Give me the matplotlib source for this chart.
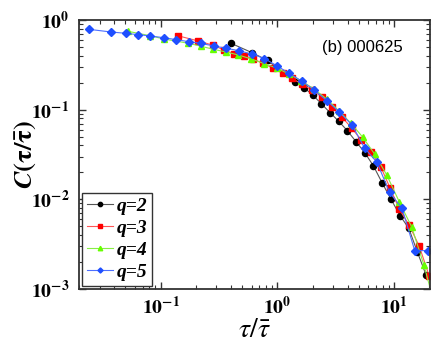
import math
import matplotlib
matplotlib.use("Agg")
import matplotlib.pyplot as plt
from matplotlib.ticker import LogLocator, FuncFormatter, NullFormatter

plt.rcParams['mathtext.fontset'] = 'stix'
plt.rcParams['font.family'] = ['STIXGeneral', 'DejaVu Serif']

# ---- data ----
x_q2 = [0.400, 0.601, 0.824, 1.421, 1.686, 2.002, 2.371, 2.816, 3.342, 3.960,
        4.700, 5.580, 6.612, 7.895, 9.37, 11.19, 13.29, 15.74, 18.68]
y_q2 = [0.550, 0.434, 0.354, 0.205, 0.176, 0.1458, 0.1167, 0.0926, 0.0743, 0.0583,
        0.0440, 0.0332, 0.0237, 0.01512, 0.01003, 0.00658, 0.00476, 0.00259, 0.001437]

x_q3 = [0.1398, 0.2107, 0.282, 0.348, 0.424, 0.517, 0.621, 0.747, 0.921, 1.108,
        1.323, 1.612, 1.963, 2.390, 2.911, 3.546, 4.318, 5.188, 6.281, 7.650,
        9.19, 11.04, 13.44, 16.37, 19.94]
y_q3 = [0.668, 0.583, 0.522, 0.463, 0.421, 0.400, 0.367, 0.329, 0.2894, 0.2545,
        0.2239, 0.1934, 0.1658, 0.1396, 0.1080, 0.0829, 0.0625, 0.0460, 0.0340, 0.0231,
        0.0134, 0.00776, 0.00512, 0.00299, 0.00138]

x_q4 = [0.0525, 0.0810, 0.1067, 0.1730, 0.2227, 0.2832, 0.3623, 0.4637, 0.599, 0.766,
        0.981, 1.254, 1.605, 2.054, 2.628, 3.362, 4.259, 5.344, 6.770, 8.61,
        11.04, 14.09, 17.96, 23.0]
y_q4 = [0.748, 0.668, 0.614, 0.550, 0.509, 0.471, 0.440, 0.407, 0.367, 0.327,
        0.2917, 0.250, 0.209, 0.170, 0.1316, 0.0967, 0.0705, 0.0496, 0.0321, 0.0187,
        0.00935, 0.00492, 0.00183, 0.00055]

x_q5 = [0.02418, 0.0375, 0.0502, 0.0643, 0.0818, 0.1061, 0.1365, 0.1747, 0.2235, 0.2860,
        0.3645, 0.4655, 0.601, 0.771, 0.990, 1.262, 1.612, 2.054, 2.638, 3.382,
        4.344, 5.558, 7.112, 9.10, 11.64, 14.95, 19.25]
y_q5 = [0.788, 0.735, 0.711, 0.686, 0.663, 0.635, 0.603, 0.573, 0.547, 0.513,
        0.484, 0.455, 0.418, 0.372, 0.3087, 0.2532, 0.2085, 0.1658, 0.126, 0.0943,
        0.0675, 0.0374, 0.0258, 0.01194, 0.00796, 0.00268, 0.00268]

labels = ['q=2', 'q=3', 'q=4', 'q=5']
annotation = '(b) 000625'

fig = plt.figure(figsize=(4.36, 3.5), dpi=100)
ax = fig.add_axes([79/436, 1-289/350, (430-79)/436, (289-20)/350])

series = [
    (x_q2, y_q2, '#000000', '#555555', 'o', 4.4),
    (x_q3, y_q3, '#ff0000', '#ff5555', 's', 3.8),
    (x_q4, y_q4, '#66ff00', '#88ee44', '^', 4.6),
    (x_q5, y_q5, '#1f4fff', '#4d6fff', 'D', 3.7),
]
for (xs, ys, mc, lc, mk, ms), lab in zip(series, labels):
    ax.plot(xs, ys, color=lc, lw=0.8, marker=mk, ms=ms, mfc=mc, mec=mc,
            label=lab, clip_on=True)

ax.set_xscale('log')
ax.set_yscale('log')
ax.set_xlim(0.02, 20.2)
ax.set_ylim(1e-3, 1.0)

fmt = FuncFormatter(lambda v, p: r'$\mathbf{10^{%d}}$' % round(math.log10(v)))
ax.xaxis.set_major_locator(LogLocator(base=10, numticks=10))
ax.yaxis.set_major_locator(LogLocator(base=10, numticks=10))
ax.xaxis.set_minor_locator(LogLocator(base=10, subs=range(2, 10), numticks=20))
ax.yaxis.set_minor_locator(LogLocator(base=10, subs=range(2, 10), numticks=20))
ax.xaxis.set_major_formatter(fmt)
ax.yaxis.set_major_formatter(fmt)
ax.xaxis.set_minor_formatter(NullFormatter())
ax.yaxis.set_minor_formatter(NullFormatter())

ax.tick_params(which='both', direction='in', top=True, right=True, colors='#333333',
               labelcolor='black')
ax.tick_params(which='major', length=5, width=1.0, labelsize=14)
ax.tick_params(which='minor', length=3, width=0.8)
ax.tick_params(axis='y', which='major', pad=7)
ax.tick_params(axis='x', which='major', pad=5)
for s in ax.spines.values():
    s.set_color('#333333')
    s.set_linewidth(1.3)

ax.set_xlabel(r'$\tau/\bar{\tau}$', fontsize=20, labelpad=0)
ax.set_ylabel(r'$\mathbfit{C}\mathbf{(\tau/\bar{\tau})}$', fontsize=19, labelpad=-5)

ax.text(0.923, 0.896, annotation, transform=ax.transAxes, ha='right', va='center',
        fontsize=12, family=['Liberation Sans', 'DejaVu Sans'])

leg = ax.legend(loc='lower left', bbox_to_anchor=(0.008, 0.012),
                prop={'family': 'Liberation Serif', 'weight': 'bold', 'style': 'italic',
                      'size': 14},
                handlelength=1.35, handletextpad=0.2, borderpad=0.25, labelspacing=0.22,
                fancybox=False, framealpha=1, edgecolor='#333333', markerscale=0.7,
                borderaxespad=0.0)
leg.get_frame().set_linewidth(1.0)

fig.savefig('out.png', dpi=100)
